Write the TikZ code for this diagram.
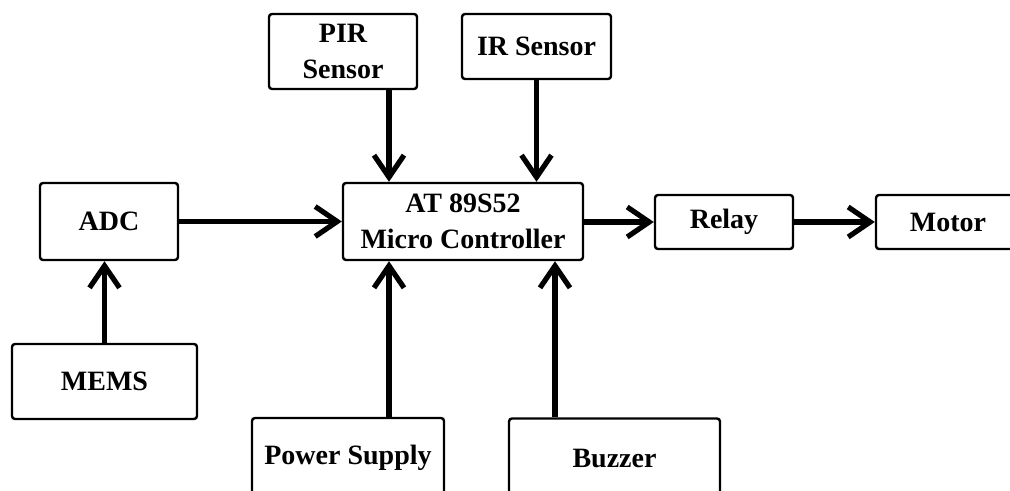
\documentclass[tikz,border=0pt]{standalone}
\usepackage{fontspec}
\setmainfont{Liberation Serif}
\usepackage{tikz}
\usetikzlibrary{arrows.meta, calc}

\begin{document}
\begin{tikzpicture}[x=0.5pt, y=-0.5pt,
    blk/.style={draw, line width=1.2pt, rounded corners=1.5pt, inner sep=0pt, align=center,
        font=\bfseries\fontsize{14}{18}\selectfont},
    sig/.style={line width=2.6pt, -{Straight Barb[length=11pt, width=15pt]}}]
    \useasboundingbox (0,0) rectangle (1010,491);

    % Blocks
    \node[blk, minimum width=74pt, minimum height=37.5pt] (pir) at (343,51.5) {PIR\\Sensor};
    \node[blk, minimum width=74.5pt, minimum height=32.5pt] (ir) at (536.5,46.5) {IR Sensor};
    \node[blk, minimum width=69pt, minimum height=38.5pt] (adc) at (109,221.5) {ADC};
    \node[blk, minimum width=120pt, minimum height=38.5pt] (mc) at (463,221.5) {AT 89S52\\Micro Controller};
    \node[blk, minimum width=69pt, minimum height=27pt] (relay) at (724,222) {Relay};
    \node[blk, minimum width=72pt, minimum height=27pt] (motor) at (948,222) {Motor};
    \node[blk, minimum width=92.5pt, minimum height=37.5pt] (mems) at (104.5,381.5) {MEMS};
    \node[blk, minimum width=96pt, minimum height=40pt] (pwr) at (348,458) {Power Supply};
    \node[blk, minimum width=105.5pt, minimum height=40pt] (buzz) at (614.5,458.5) {Buzzer};

    % Signals into the controller
    \draw[sig] ([xshift=23pt]pir.south) -- ([xshift=23pt]pir.south |- mc.north);
    \draw[sig] (ir.south) -- (ir.south |- mc.north);
    \draw[sig] (adc.east) -- (adc.east -| mc.west);
    \draw[sig] (mems.north) -- (mems.north |- adc.south);
    \draw[sig] ([xshift=20.5pt]pwr.north) -- ([xshift=20.5pt]pwr.north |- mc.south);
    \draw[sig] ([xshift=-29.75pt]buzz.north) -- ([xshift=-29.75pt]buzz.north |- mc.south);

    % Outputs
    \draw[sig] (mc.east |- relay.west) -- (relay.west);
    \draw[sig] (relay.east) -- (motor.west);
\end{tikzpicture}
\end{document}
